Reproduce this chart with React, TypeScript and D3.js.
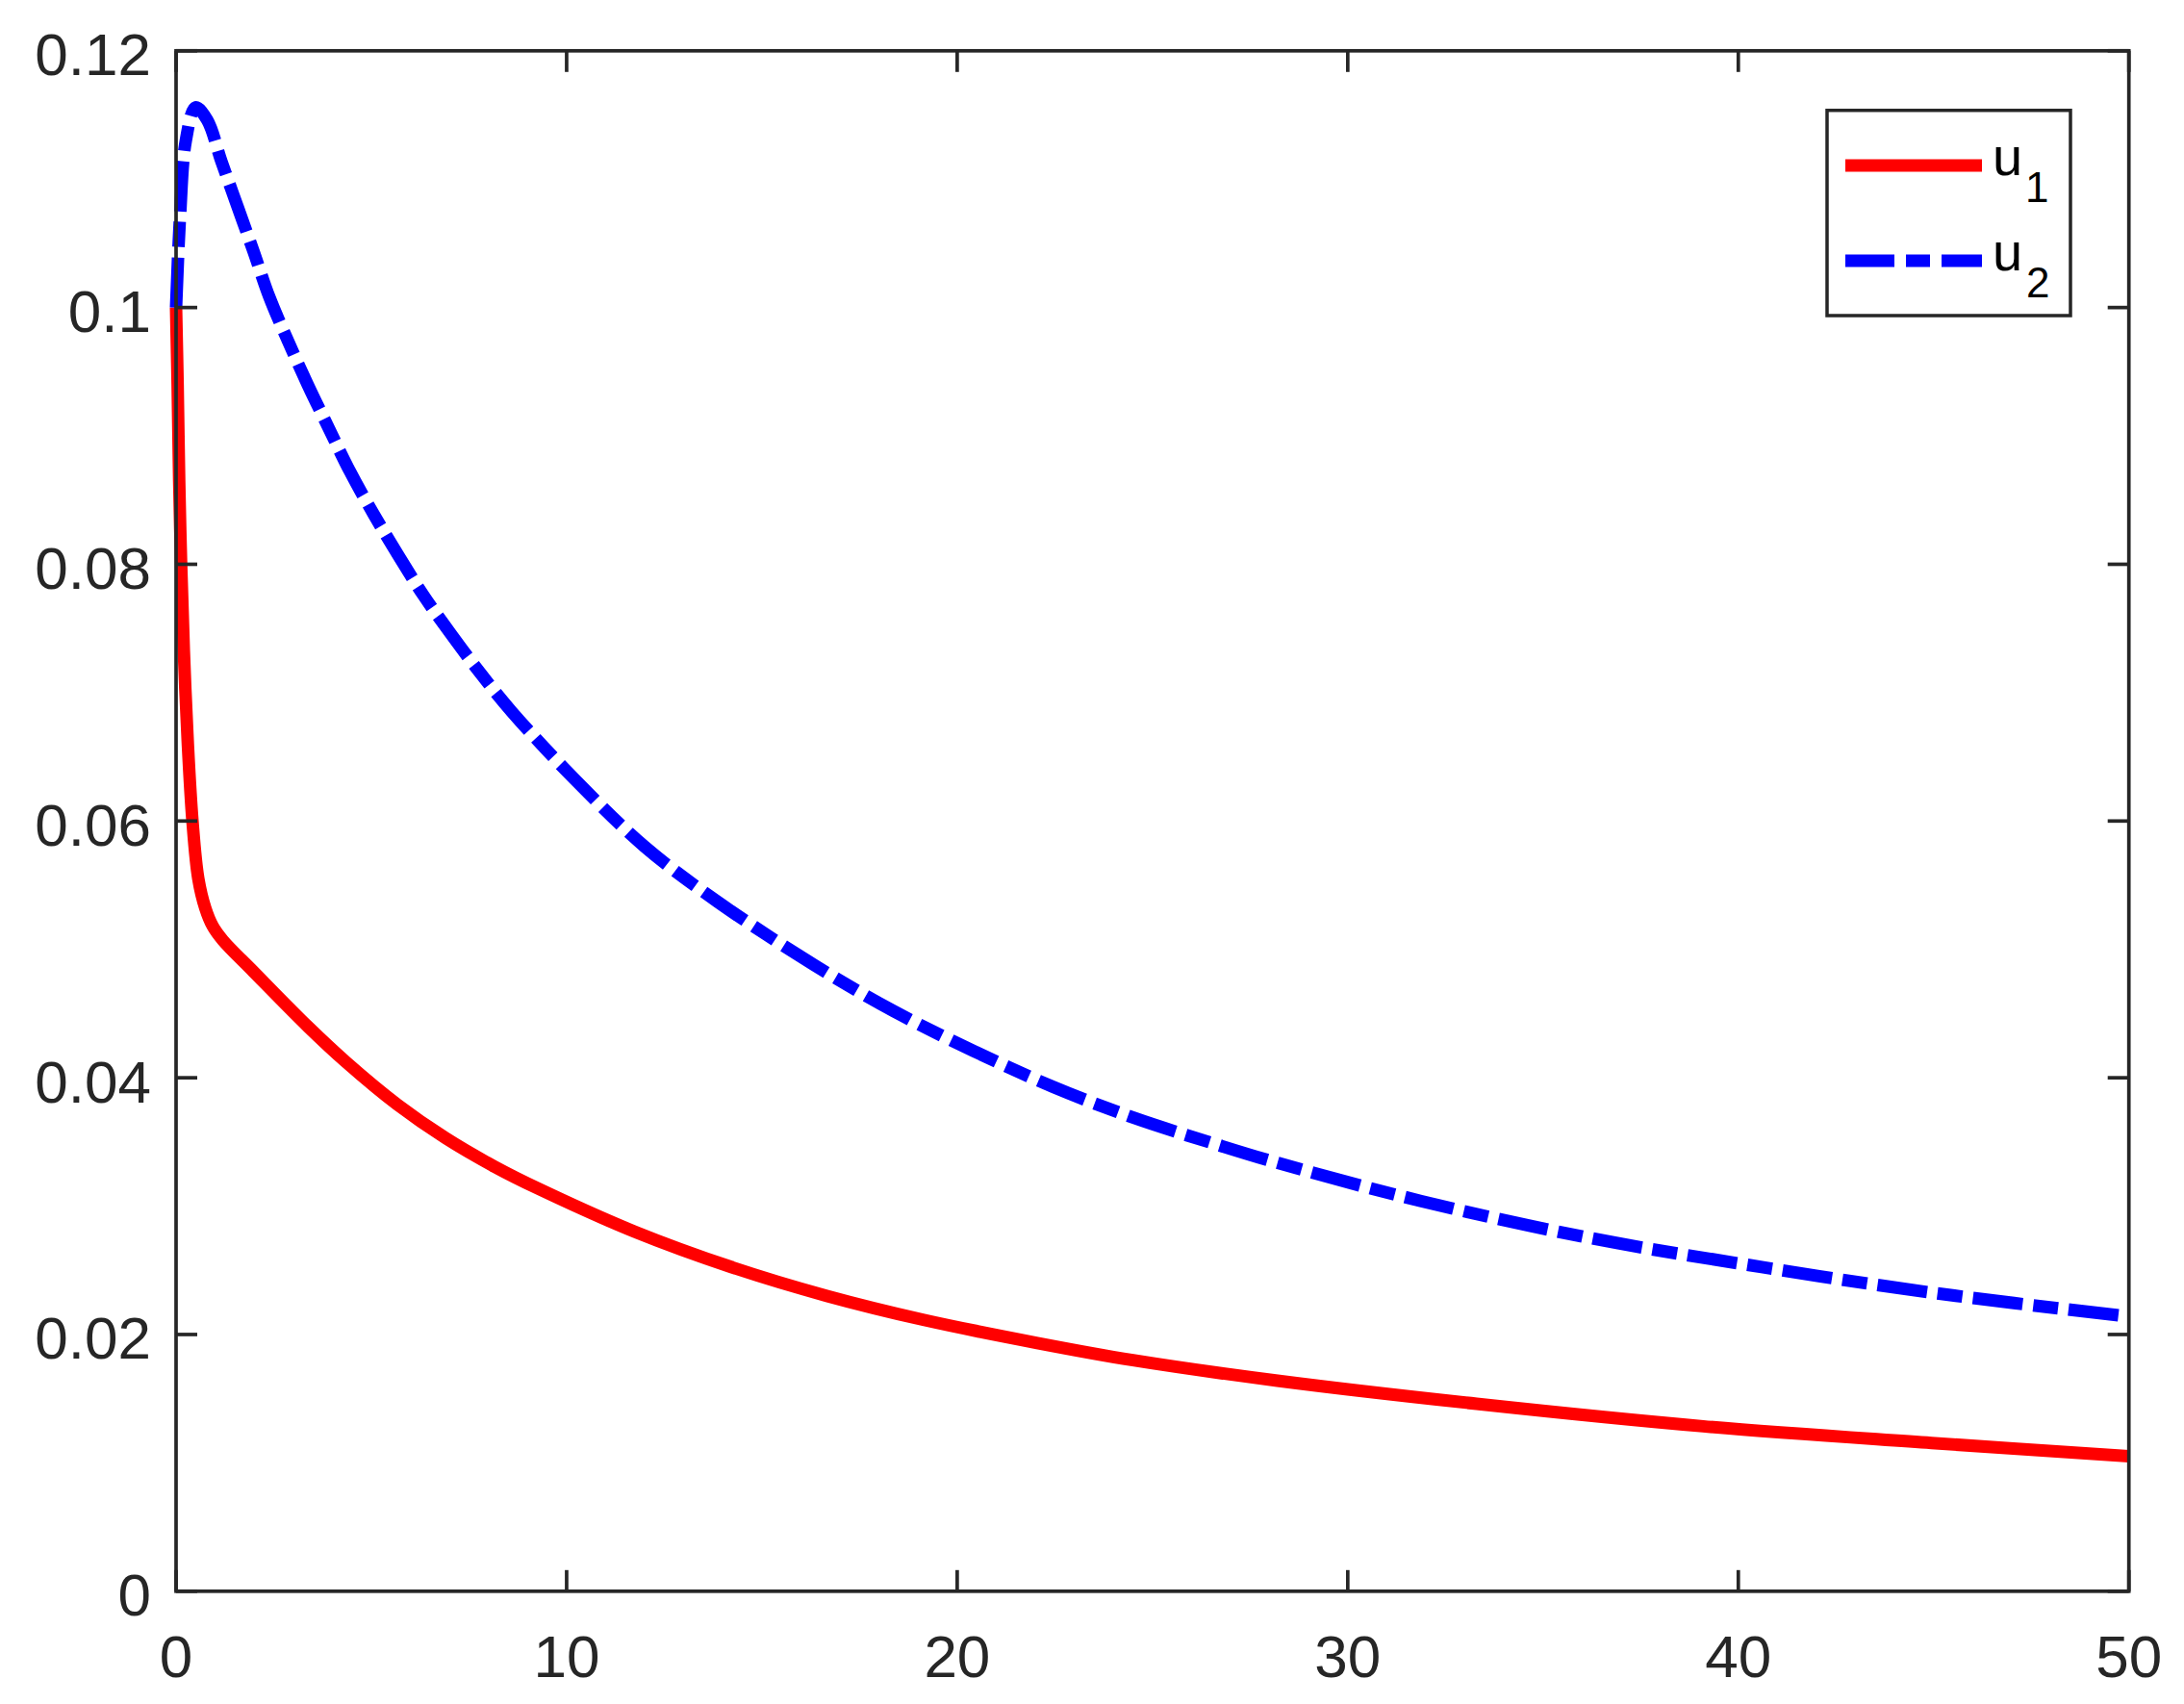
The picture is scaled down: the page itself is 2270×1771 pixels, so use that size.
import * as d3 from "d3";
import React from "react";

const WIDTH = 2270;
const HEIGHT = 1771;
const MARGIN = { top: 52.8, right: 57.3, bottom: 117.2, left: 183 };

// u1
const tU1 = [0, 0.04, 0.08, 0.13, 0.2, 0.3, 0.42, 0.57, 0.75, 0.94, 1.2, 1.97, 3.37, 4.36, 5.67, 6.9, 8.14, 9.29, 11.75, 14.21, 16.67, 19.14, 22.05, 24.5, 28.2, 33.3, 39.1, 44.95, 50];
const u1 = [0.1, 0.094, 0.0865, 0.08, 0.0732, 0.0661, 0.06, 0.0555, 0.0532, 0.0518, 0.0507, 0.0483, 0.044, 0.0412, 0.0379, 0.0353, 0.0331, 0.03134, 0.028, 0.02526, 0.023, 0.02114, 0.01934, 0.018, 0.0164, 0.0146, 0.01285, 0.01155, 0.01051];

// u2
const tU2 = [0, 0.1, 0.25, 0.5, 0.8, 1.16, 1.57, 1.98, 2.39, 2.88, 3.37, 3.91, 4.44, 5.06, 5.67, 6.33, 7.03, 7.77, 8.6, 10.19, 12.0, 13.87, 16.33, 18.37, 20.41, 22.45, 24.5, 26.54, 28.17, 31.87, 36.23, 40.6, 44.95, 50];
const u2 = [0.1, 0.107, 0.113, 0.1156, 0.1146, 0.1114, 0.1079, 0.1044, 0.1008, 0.0973, 0.094, 0.0906, 0.0873, 0.0839, 0.0808, 0.0776, 0.0746, 0.0716, 0.0685, 0.0633, 0.058, 0.0537, 0.0488, 0.0452, 0.0421, 0.0393, 0.0369, 0.0349, 0.0334, 0.0304, 0.0275, 0.02525, 0.02326, 0.0214];

const xTicks = [0, 10, 20, 30, 40, 50];
const xTickLabels = ["0", "10", "20", "30", "40", "50"];
const yTicks = [0, 0.02, 0.04, 0.06, 0.08, 0.1, 0.12];
const yTickLabels = ["0", "0.02", "0.04", "0.06", "0.08", "0.1", "0.12"];

const AXIS = "#262626";
const FONT = "'Liberation Sans', Arial, Helvetica, sans-serif";
const TICK_LEN = 22;
const DASH = "52 11 26 11";

const App: React.FC = () => {
    const boundsWidth = WIDTH - MARGIN.left - MARGIN.right;
    const boundsHeight = HEIGHT - MARGIN.top - MARGIN.bottom;

    const xScale = d3.scaleLinear().domain([0, 50]).range([0, boundsWidth]);
    const yScale = d3.scaleLinear().domain([0, 0.12]).range([boundsHeight, 0]);

    // centripetal catmull-rom keeps the steep start from overshooting
    const lineBuilder = d3
        .line<[number, number]>()
        .x((d) => xScale(d[0]))
        .y((d) => yScale(d[1]))
        .curve(d3.curveCatmullRom.alpha(0.5));

    const path1 = lineBuilder(tU1.map((t, i) => [t, u1[i]]));
    const path2 = lineBuilder(tU2.map((t, i) => [t, u2[i]]));

    // legend box (svg coords)
    const lg = { x: 1899, y: 114.7, w: 253, h: 213.3 };

    return (
        <svg
            width={WIDTH}
            height={HEIGHT}
            style={{ position: "absolute", left: 0, top: 0, background: "#fff" }}
        >
            <rect x={0} y={0} width={WIDTH} height={HEIGHT} fill="#fff" />
            <g transform={`translate(${MARGIN.left},${MARGIN.top})`}>
                <path d={path1 || ""} fill="none" stroke="#ff0000" strokeWidth={13} />
                <path
                    d={path2 || ""}
                    fill="none"
                    stroke="#0000ff"
                    strokeWidth={13}
                    strokeDasharray={DASH}
                />

                {/* axes box */}
                <rect
                    x={0}
                    y={0}
                    width={boundsWidth}
                    height={boundsHeight}
                    fill="none"
                    stroke={AXIS}
                    strokeWidth={3.7}
                />

                {xTicks.map((t, i) => (
                    <g key={"x" + t}>
                        <line x1={xScale(t)} x2={xScale(t)} y1={boundsHeight} y2={boundsHeight - TICK_LEN} stroke={AXIS} strokeWidth={3.7} />
                        <line x1={xScale(t)} x2={xScale(t)} y1={0} y2={TICK_LEN} stroke={AXIS} strokeWidth={3.7} />
                        <text
                            x={xScale(t)}
                            y={boundsHeight + 89}
                            textAnchor="middle"
                            fontFamily={FONT}
                            fontSize={62}
                            fill={AXIS}
                        >
                            {xTickLabels[i]}
                        </text>
                    </g>
                ))}

                {yTicks.map((v, i) => (
                    <g key={"y" + v}>
                        <line x1={0} x2={TICK_LEN} y1={yScale(v)} y2={yScale(v)} stroke={AXIS} strokeWidth={3.7} />
                        <line x1={boundsWidth} x2={boundsWidth - TICK_LEN} y1={yScale(v)} y2={yScale(v)} stroke={AXIS} strokeWidth={3.7} />
                        <text
                            x={-26}
                            y={yScale(v) + 25.5}
                            textAnchor="end"
                            fontFamily={FONT}
                            fontSize={62}
                            fill={AXIS}
                        >
                            {yTickLabels[i]}
                        </text>
                    </g>
                ))}
            </g>

            {/* legend */}
            <rect x={lg.x} y={lg.y} width={lg.w} height={lg.h} fill="#fff" stroke={AXIS} strokeWidth={3.5} />
            <line x1={1918} x2={2060} y1={172} y2={172} stroke="#ff0000" strokeWidth={13} />
            <line x1={1918} x2={2060} y1={271} y2={271} stroke="#0000ff" strokeWidth={13} strokeDasharray="51 12 25 12" />
            <text x={2071} y={181.7} fontFamily={FONT} fontSize={56} fill="#000">u</text>
            <text x={2105} y={210} fontFamily={FONT} fontSize={44} fill="#000">1</text>
            <text x={2071} y={281} fontFamily={FONT} fontSize={56} fill="#000">u</text>
            <text x={2106} y={309.3} fontFamily={FONT} fontSize={44} fill="#000">2</text>
        </svg>
    );
};

export default App;
